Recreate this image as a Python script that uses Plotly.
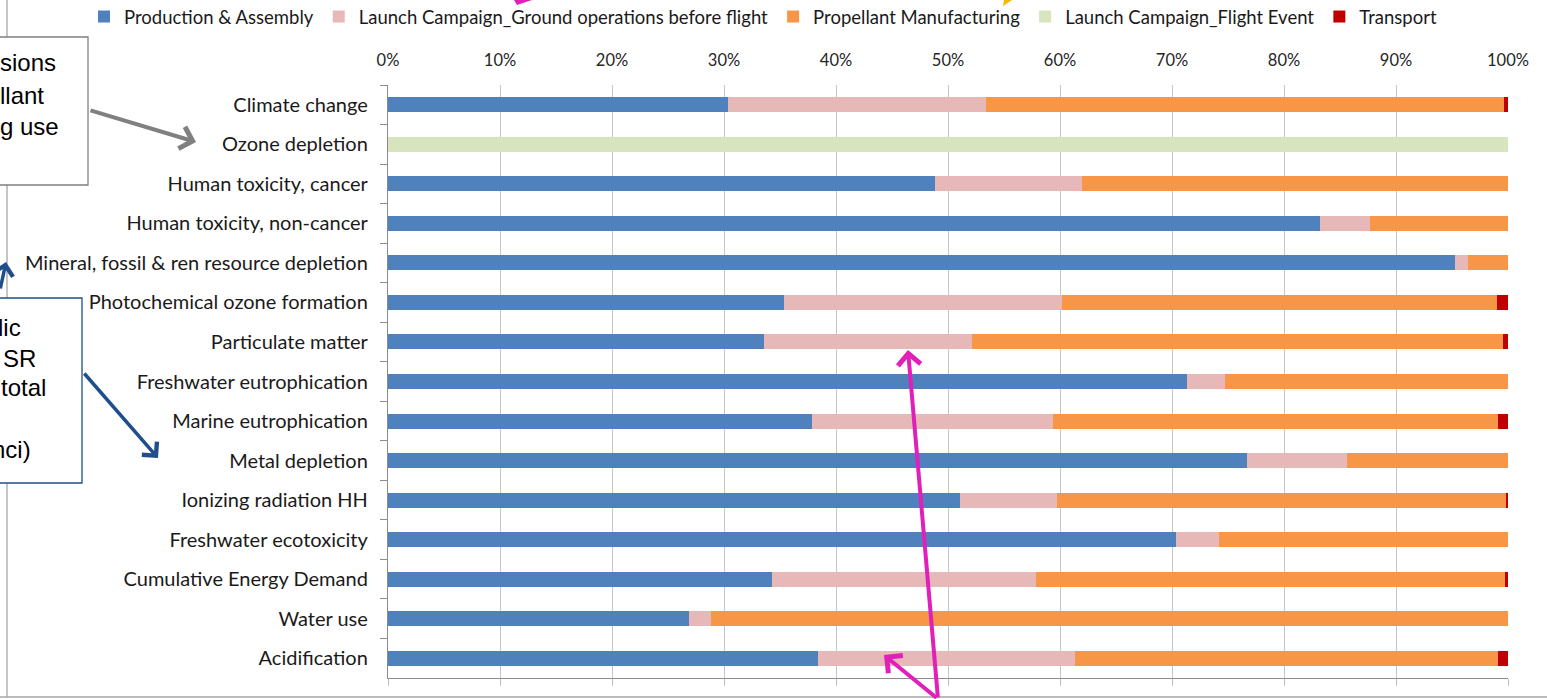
import plotly.graph_objects as go

categories = [
    "Climate change", "Ozone depletion", "Human toxicity, cancer",
    "Human toxicity, non-cancer", "Mineral, fossil & ren resource depletion",
    "Photochemical ozone formation", "Particulate matter",
    "Freshwater eutrophication", "Marine eutrophication", "Metal depletion",
    "Ionizing radiation HH", "Freshwater ecotoxicity",
    "Cumulative Energy Demand", "Water use", "Acidification",
]
production = [30.4, 0.0, 48.8, 83.2, 95.3, 35.4, 33.6, 71.3, 37.9, 76.7, 51.1, 70.4, 34.3, 26.9, 38.4]
ground_ops = [23.0, 0.0, 13.2, 4.5, 1.1, 24.8, 18.5, 3.4, 21.5, 8.9, 8.6, 3.8, 23.6, 1.9, 22.9]
propellant = [46.2, 0.0, 38.0, 12.3, 3.6, 38.8, 47.45, 25.3, 39.7, 14.4, 40.1, 25.8, 41.8, 71.2, 37.8]
flight_event = [0.0, 100.0, 0.0, 0.0, 0.0, 0.0, 0.0, 0.0, 0.0, 0.0, 0.0, 0.0, 0.0, 0.0, 0.0]
transport = [0.4, 0.0, 0.0, 0.0, 0.0, 1.0, 0.45, 0.0, 0.9, 0.0, 0.2, 0.0, 0.3, 0.0, 0.9]

series = [
    ("Production & Assembly", production, "#4F81BD"),
    ("Launch Campaign_Ground operations before flight", ground_ops, "#E6B9B8"),
    ("Propellant Manufacturing", propellant, "#F79646"),
    ("Launch Campaign_Flight Event", flight_event, "#D7E4BD"),
    ("Transport", transport, "#C00000"),
]
tick_vals = [0, 10, 20, 30, 40, 50, 60, 70, 80, 90, 100]
tick_text = [f"{v}%" for v in tick_vals]

W, H = 1547, 699
L, R, T, B = 388, 1508, 85, 678


def px(x):
    return (x - L) / (R - L)


def py(y):
    return (B - y) / (B - T)


FONT = "Lato, 'Open Sans', sans-serif"

fig = go.Figure()
for name, vals, color in series:
    fig.add_trace(go.Bar(
        name=name, y=categories, x=vals, orientation="h",
        marker=dict(color=color, line=dict(width=0)),
    ))
fig.add_trace(go.Scatter(x=[None], y=[None], xaxis="x2", showlegend=False,
                         hoverinfo="skip"))

fig.update_layout(
    width=W, height=H,
    margin=dict(l=L, r=W - R, t=T, b=H - B, pad=0, autoexpand=False),
    barmode="stack", bargap=0.62,
    plot_bgcolor="white", paper_bgcolor="white",
    font=dict(family=FONT, size=20, color="#1a1a1a"),
    showlegend=True,
    legend=dict(orientation="h", x=px(84), xanchor="left", y=py(17),
                yanchor="middle", font=dict(size=18.5), itemwidth=30,
                traceorder="normal", tracegroupgap=0, bgcolor="rgba(0,0,0,0)"),
    xaxis=dict(range=[0, 100], side="top", tickvals=tick_vals, ticktext=tick_text,
               showgrid=True, gridcolor="#C6C6C6", gridwidth=1.3, zeroline=False,
               showline=False, ticks="", ticklabelstandoff=15, automargin=False,
               tickfont=dict(size=16.5, color="#262626")),
    xaxis2=dict(range=[0, 100], overlaying="x", side="bottom", tickvals=tick_vals,
                showticklabels=False, showgrid=False, zeroline=False,
                showline=True, linecolor="#8C8C8C", linewidth=1.3, automargin=False,
                ticks="outside", ticklen=7, tickcolor="#BDBDBD", tickwidth=1.3),
    yaxis=dict(categoryorder="array", categoryarray=categories, autorange="reversed",
               showline=True, linecolor="#8C8C8C", linewidth=1.3, automargin=False,
               ticks="outside", ticklen=7, tickcolor="#8C8C8C", tickson="boundaries",
               showgrid=False, zeroline=False, ticklabelstandoff=15,
               tickfont=dict(size=20, color="#1a1a1a")),
)

shapes = []
# slide frame lines
shapes.append(dict(type="line", xref="paper", yref="paper", x0=px(7), x1=px(7),
                   y0=py(0), y1=py(697), line=dict(color="#A6A6A6", width=1.3)))
shapes.append(dict(type="line", xref="paper", yref="paper", x0=px(0), x1=px(W),
                   y0=py(697), y1=py(697), line=dict(color="#A6A6A6", width=1.3)))
# text boxes
shapes.append(dict(type="rect", xref="paper", yref="paper", x0=px(-5), x1=px(88),
                   y0=py(185), y1=py(37), fillcolor="white",
                   line=dict(color="#7F7F7F", width=1.3)))
shapes.append(dict(type="rect", xref="paper", yref="paper", x0=px(-5), x1=px(82),
                   y0=py(483), y1=py(298), fillcolor="white",
                   line=dict(color="#1F4E8C", width=1.3)))
# small cropped arrow tips at top edge
shapes.append(dict(type="path", xref="paper", yref="paper",
                   path=f"M {px(514)},{py(0)} L {px(532)},{py(0)} L {px(517)},{py(5)} Z",
                   fillcolor="#E020B8", line=dict(width=0)))
shapes.append(dict(type="path", xref="paper", yref="paper",
                   path=f"M {px(1004)},{py(0)} L {px(1012)},{py(0)} L {px(1003)},{py(6)} Z",
                   fillcolor="#F5B700", line=dict(width=0)))
fig.update_layout(shapes=shapes)

ann = []
box_font = dict(family="'Liberation Sans', Arial, sans-serif", size=24, color="black")
for txt, xr, yc in [("sions", 58, 63), ("llant", 46, 95), ("g use", 61, 127),
                    ("lic", 23, 327), ("SR", 38, 358), ("total", 48, 388), ("nci)", 33, 449)]:
    ann.append(dict(text=txt, xref="paper", yref="paper", x=px(xr), y=py(yc),
                    xanchor="right", yanchor="middle", showarrow=False, font=box_font))


def arrow(tip, tail, color, width, size=1.0):
    return dict(text="", xref="paper", yref="paper", x=px(tip[0]), y=py(tip[1]),
                axref="pixel", ayref="pixel", ax=tail[0] - tip[0], ay=tail[1] - tip[1],
                showarrow=True, arrowhead=4, arrowsize=size, arrowwidth=width,
                arrowcolor=color, standoff=0, startstandoff=0)


ann.append(arrow((196, 142), (89, 110), "#808080", 4, 1.1))
ann.append(arrow((158, 458), (83, 372), "#1F4E8C", 3.5, 1.1))
ann.append(arrow((6, 262), (-20, 290), "#1F4E8C", 3.5, 1.1))
ann.append(arrow((908, 350), (938, 705), "#E020B8", 4, 1.1))
ann.append(arrow((884, 655), (938, 700), "#E020B8", 4, 1.1))
fig.update_layout(annotations=ann)

fig.write_html("out.html")
